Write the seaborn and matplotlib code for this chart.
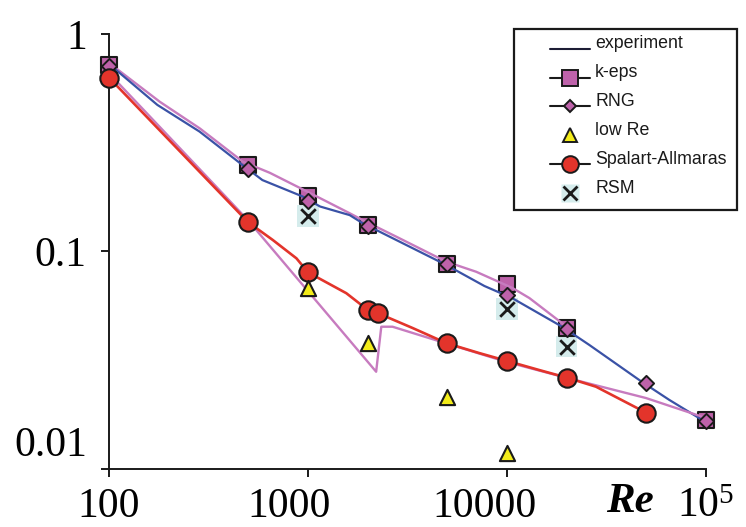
import matplotlib
matplotlib.use("Agg")
import matplotlib.pyplot as plt
import seaborn as sns
from matplotlib.lines import Line2D
from matplotlib.patches import Rectangle
from matplotlib.transforms import ScaledTranslation

# ---------------- data ----------------
# experiment curve (upper, blue)
re_exp = [100, 175, 285, 455, 590, 940, 1150, 1620, 1880, 4950, 7700, 10600,
          19000, 25900, 47800, 65300, 100000]
val_exp = [0.728, 0.472, 0.356, 0.255, 0.213, 0.179, 0.161, 0.147, 0.135,
           0.0867, 0.0694, 0.0611, 0.045, 0.0372, 0.0251, 0.0208, 0.0164]

# upper pink curve
re_pink_up = [100, 180, 286, 470, 643, 1020, 1618, 1882, 2777, 4947, 7000,
              10640, 12950, 19950]
val_pink_up = [0.736, 0.488, 0.368, 0.259, 0.230, 0.186, 0.150, 0.1395, 0.117,
               0.0898, 0.0807, 0.068, 0.0611, 0.0451]

# lower pink curve (with the jump)
re_pink_low = [100, 500, 2200, 2335, 2660, 4950, 9900, 20100, 49900, 100000]
val_pink_low = [0.66, 0.139, 0.028, 0.0451, 0.0451, 0.0378, 0.0311, 0.0262,
                0.0212, 0.01716]

# Spalart-Allmaras curve (red)
re_sa_line = [100, 500, 665, 875, 1000, 1558, 2000, 2250, 3352, 5000, 7270,
              10000, 14540, 20000, 28000, 50000]
val_sa_line = [0.630, 0.1364, 0.113, 0.093, 0.0802, 0.0643, 0.0538, 0.052,
               0.0445, 0.0378, 0.0341, 0.0314, 0.0285, 0.0263, 0.0239, 0.01815]

# model points
re_keps = [100, 500, 1000, 2000, 5000, 10000, 20000, 100000]
val_keps = [0.72, 0.25, 0.18, 0.133, 0.0878, 0.0709, 0.0445, 0.0168]

re_rng = [100, 500, 1000, 2000, 5000, 10000, 20000, 50000, 100000]
val_rng = [0.713, 0.2395, 0.1707, 0.1314, 0.0879, 0.0631, 0.044, 0.0249, 0.0167]

re_low = [1000, 2000, 5000, 10000]
val_low = [0.0677, 0.0378, 0.0215, 0.0118]

re_sa = [100, 500, 1000, 2000, 2250, 5000, 10000, 20000, 50000]
val_sa = [0.630, 0.1364, 0.0802, 0.0538, 0.052, 0.0378, 0.0314, 0.0263, 0.01815]

re_rsm = [1000, 10000, 20000]
val_rsm = [0.1456, 0.0544, 0.0365]

x_ticks = [100, 1000, 10000, 100000]
x_ticklabels = ["100", "1000", "10000", r"$\mathregular{10^5}$"]
y_ticks = [0.01, 0.1, 1]
y_ticklabels = ["0.01", "0.1", "1"]

legend_labels = ["experiment", "k-eps", "RNG", "low Re", "Spalart-Allmaras", "RSM"]

# ---------------- style ----------------
sns.set_theme(style="ticks")
plt.rcParams["font.family"] = ["Liberation Serif", "DejaVu Serif"]
plt.rcParams["mathtext.fontset"] = "custom"
plt.rcParams["mathtext.rm"] = "Liberation Serif"

BLUE = "#3A52A6"
PINK_LINE = "#C77BBF"
PINK_FILL = "#BE62AA"
RED = "#E3342B"
YELLOW = "#F3EC1A"
CYAN_BG = "#D5ECEC"
DARK = "#1a1a1a"

W, H = 746, 527
fig = plt.figure(figsize=(W / 100, H / 100), dpi=100)
ax = fig.add_axes([109 / W, 1 - 469 / H, (706 - 109) / W, (469 - 34) / H])
ax.set_xscale("log")
ax.set_yscale("log")

# RSM background squares (below everything)
sns.scatterplot(x=re_rsm, y=val_rsm, marker="s", s=230, color=CYAN_BG,
                edgecolor="none", linewidth=0, ax=ax, zorder=2, clip_on=False)

# k-eps squares
sns.scatterplot(x=re_keps, y=val_keps, marker="s", s=135, color=PINK_FILL,
                edgecolor=DARK, linewidth=1.5, ax=ax, zorder=3, clip_on=False)

# lines
sns.lineplot(x=re_pink_up, y=val_pink_up, color=PINK_LINE, lw=1.7, sort=False,
             estimator=None, ax=ax, zorder=4)
sns.lineplot(x=re_exp, y=val_exp, color=BLUE, lw=1.6, sort=False,
             estimator=None, ax=ax, zorder=4)
sns.lineplot(x=re_pink_low, y=val_pink_low, color=PINK_LINE, lw=1.7, sort=False,
             estimator=None, ax=ax, zorder=4)
sns.lineplot(x=re_sa_line, y=val_sa_line, color=RED, lw=1.9, sort=False,
             estimator=None, ax=ax, zorder=4)

# RNG diamonds
sns.scatterplot(x=re_rng, y=val_rng, marker="D", s=60, color=PINK_FILL,
                edgecolor=DARK, linewidth=1.4, ax=ax, zorder=5, clip_on=False)
# Spalart-Allmaras circles
sns.scatterplot(x=re_sa, y=val_sa, marker="o", s=175, color=RED,
                edgecolor=DARK, linewidth=1.5, ax=ax, zorder=5, clip_on=False)
# low Re triangles
sns.scatterplot(x=re_low, y=val_low, marker="^", s=120, color=YELLOW,
                edgecolor=DARK, linewidth=1.5, ax=ax, zorder=6, clip_on=False)
# RSM crosses
sns.scatterplot(x=re_rsm, y=val_rsm, marker="x", s=110, color=DARK,
                linewidth=2.0, ax=ax, zorder=6, clip_on=False)

# axes
ax.set_xlim(100, 100000)
ax.set_ylim(0.01, 1)
ax.set_xticks(x_ticks)
ax.set_xticklabels(x_ticklabels)
ax.set_yticks(y_ticks)
ax.set_yticklabels(y_ticklabels)
ax.minorticks_off()
for s in ["top", "right"]:
    ax.spines[s].set_visible(False)
for s in ["left", "bottom"]:
    ax.spines[s].set_color(DARK)
    ax.spines[s].set_linewidth(1.4)
ax.tick_params(axis="both", direction="out", length=6, width=1.4, color=DARK,
               labelsize=30, labelcolor="black")
ax.tick_params(axis="x", pad=7)
ax.tick_params(axis="y", pad=10)
ax.set_xlabel("Re", fontsize=31, fontweight="bold", fontstyle="italic",
              color="black")
ax.xaxis.set_label_coords(0.872, -0.032)
ax.set_ylabel("")

# nudge tick labels as placed in the reference
y_shift = {"0.01": 0.28}
for lab in ax.get_yticklabels():
    if lab.get_text() in y_shift:
        lab.set_transform(lab.get_transform() +
                          ScaledTranslation(0, y_shift[lab.get_text()],
                                            fig.dpi_scale_trans))
x_shift = {"1000": -0.19, "10000": -0.22}
for lab in ax.get_xticklabels():
    if lab.get_text() in x_shift:
        lab.set_transform(lab.get_transform() +
                          ScaledTranslation(x_shift[lab.get_text()], 0,
                                            fig.dpi_scale_trans))

# legend
h_exp = Line2D([], [], color="#1d1d35", lw=1.5)
h_keps = Line2D([], [], color=DARK, lw=1.5, marker="s", ms=12,
                mfc=PINK_FILL, mec=DARK, mew=1.4)
h_rng = Line2D([], [], color=DARK, lw=1.5, marker="D", ms=6.5,
               mfc=PINK_FILL, mec=DARK, mew=1.4)
h_low = Line2D([], [], ls="none", marker="^", ms=10.5,
               mfc=YELLOW, mec=DARK, mew=1.4)
h_sa = Line2D([], [], color=DARK, lw=1.5, marker="o", ms=12,
              mfc=RED, mec=DARK, mew=1.4)
h_rsm_bg = Line2D([], [], ls="none", marker="s", ms=13.5, mfc=CYAN_BG, mec="none")
h_rsm_x = Line2D([], [], ls="none", marker="x", ms=10.5, mec=DARK, mew=2.0)

leg = fig.legend([h_exp, h_keps, h_rng, h_low, h_sa, (h_rsm_bg, h_rsm_x)],
                 legend_labels, loc="upper left",
                 bbox_to_anchor=(541 / W, 1 - 33 / H),
                 frameon=False, borderpad=0, handlelength=2.25,
                 handletextpad=0.3, labelspacing=0.67,
                 prop={"family": "Liberation Sans", "size": 12.8})
for t in leg.get_texts():
    t.set_color(DARK)
    t.set_transform(t.get_transform() +
                    ScaledTranslation(0, 0.065, fig.dpi_scale_trans))

fig.add_artist(Rectangle((514 / W, 1 - 210 / H), (737 - 514) / W, (210 - 29) / H,
                         transform=fig.transFigure, fill=False,
                         edgecolor=DARK, linewidth=1.6))

fig.savefig("out.png", dpi=100)
